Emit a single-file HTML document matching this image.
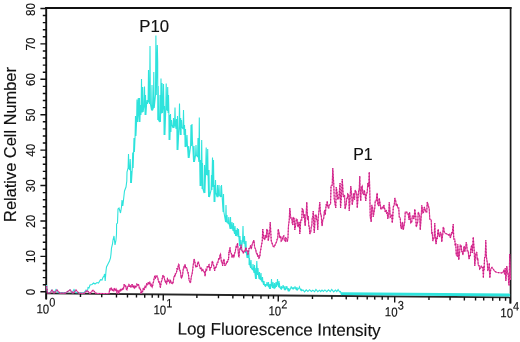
<!DOCTYPE html>
<html><head><meta charset="utf-8"><style>
html,body{margin:0;padding:0;background:#fff;}
svg{display:block;will-change:transform;}
text{font-family:"Liberation Sans", sans-serif;fill:#111;stroke:#111;stroke-width:0.15px;}
</style></head><body>
<svg width="520" height="342" viewBox="0 0 520 342">
<path d="M40.4 291.80H46.2 M42.8 284.72H46.2 M42.8 277.63H46.2 M42.8 270.55H46.2 M42.8 263.46H46.2 M40.4 256.38H46.2 M42.8 249.30H46.2 M42.8 242.21H46.2 M42.8 235.13H46.2 M42.8 228.04H46.2 M40.4 220.96H46.2 M42.8 213.88H46.2 M42.8 206.79H46.2 M42.8 199.71H46.2 M42.8 192.62H46.2 M40.4 185.54H46.2 M42.8 178.46H46.2 M42.8 171.37H46.2 M42.8 164.29H46.2 M42.8 157.20H46.2 M40.4 150.12H46.2 M42.8 143.04H46.2 M42.8 135.95H46.2 M42.8 128.87H46.2 M42.8 121.78H46.2 M40.4 114.70H46.2 M42.8 107.62H46.2 M42.8 100.53H46.2 M42.8 93.45H46.2 M42.8 86.36H46.2 M40.4 79.28H46.2 M42.8 72.20H46.2 M42.8 65.11H46.2 M42.8 58.03H46.2 M42.8 50.94H46.2 M40.4 43.86H46.2 M42.8 36.78H46.2 M42.8 29.69H46.2 M42.8 22.61H46.2 M42.8 15.52H46.2 M40.4 8.44H46.2" stroke="#111" stroke-width="1.4" fill="none"/>
<text transform="translate(35.0,292.00) rotate(-90) scale(0.92,1)" text-anchor="middle" font-size="12.7">0</text>
<text transform="translate(35.0,256.58) rotate(-90) scale(0.92,1)" text-anchor="middle" font-size="12.7">10</text>
<text transform="translate(35.0,221.16) rotate(-90) scale(0.92,1)" text-anchor="middle" font-size="12.7">20</text>
<text transform="translate(35.0,185.74) rotate(-90) scale(0.92,1)" text-anchor="middle" font-size="12.7">30</text>
<text transform="translate(35.0,150.32) rotate(-90) scale(0.92,1)" text-anchor="middle" font-size="12.7">40</text>
<text transform="translate(35.0,114.90) rotate(-90) scale(0.92,1)" text-anchor="middle" font-size="12.7">50</text>
<text transform="translate(35.0,79.48) rotate(-90) scale(0.92,1)" text-anchor="middle" font-size="12.7">60</text>
<text transform="translate(35.0,44.06) rotate(-90) scale(0.92,1)" text-anchor="middle" font-size="12.7">70</text>
<text transform="translate(35.0,9.44) rotate(-90) scale(0.92,1)" text-anchor="middle" font-size="12.7">80</text>
<text transform="translate(15.6,144.5) rotate(-90)" text-anchor="middle" font-size="16.4">Relative Cell Number</text>
<path d="M45.300000000000004 8.0H511.5" stroke="#111" stroke-width="2.1" fill="none"/>
<path d="M46.2 7.0V299.2" stroke="#111" stroke-width="1.9" fill="none"/>
<path d="M510.6 7.0V303.4" stroke="#1a1a1a" stroke-width="1.7" fill="none"/>
<g transform="rotate(0.4927 46.2 293.4)">
<path d="M46.2 293.4H510.6" stroke="#262626" stroke-width="1.9" fill="none"/>
<path d="M80.50 293.4V296.8 M101.75 293.4V296.8 M116.50 293.4V296.8 M127.50 293.4V296.8 M136.50 293.4V296.8 M144.75 293.4V296.8 M152.25 293.4V296.8 M158.50 293.4V296.8 M196.90 293.4V296.8 M218.50 293.4V296.8 M232.90 293.4V296.8 M243.75 293.4V296.8 M252.75 293.4V296.8 M261.00 293.4V296.8 M268.50 293.4V296.8 M273.50 293.4V296.8 M312.50 293.4V296.8 M331.90 293.4V296.8 M346.25 293.4V296.8 M357.50 293.4V296.8 M367.25 293.4V296.8 M374.75 293.4V296.8 M382.25 293.4V296.8 M388.10 293.4V296.8 M429.00 293.4V296.8 M450.10 293.4V296.8 M464.40 293.4V296.8 M475.60 293.4V296.8 M483.75 293.4V296.8 M492.75 293.4V296.8 M499.75 293.4V296.8 M505.60 293.4V296.8 M46.30 293.4V299.6 M163.30 293.4V299.6 M278.30 293.4V299.6 M394.75 293.4V299.6 M510.20 293.4V299.6" stroke="#111" stroke-width="1.4" fill="none"/>
<text transform="translate(36.60,313.45) scale(0.88,1)" font-size="13">10<tspan dy="-7.05" font-size="12.4">0</tspan></text>
<text transform="translate(153.60,313.45) scale(0.88,1)" font-size="13">10<tspan dy="-7.05" font-size="12.4">1</tspan></text>
<text transform="translate(268.60,313.45) scale(0.88,1)" font-size="13">10<tspan dy="-7.05" font-size="12.4">2</tspan></text>
<text transform="translate(385.05,313.45) scale(0.88,1)" font-size="13">10<tspan dy="-7.05" font-size="12.4">3</tspan></text>
<text transform="translate(500.50,313.45) scale(0.88,1)" font-size="13">10<tspan dy="-7.05" font-size="12.4">4</tspan></text>
<text transform="translate(177.8,333.25)" font-size="17">Log Fluorescence Intensity</text>
</g>
<polyline points="46.50,285.00 47.50,292.51 50.00,292.53 52.00,290.00 54.00,292.57 56.00,289.50 58.00,292.60 62.00,292.64 66.00,292.67 70.00,290.00 72.00,292.72 74.00,289.50 76.00,292.76 80.00,292.79 84.00,292.83 86.00,290.00 87.50,291.00 88.00,287.50 89.00,288.00 90.00,285.00 92.00,284.50 93.60,283.00 95.00,284.00 97.00,282.50 98.50,283.00 100.50,279.60 102.00,280.00 103.00,277.30 104.00,276.00 104.60,274.00 105.20,281.00 106.00,271.00 106.50,267.00 108.00,264.00 109.50,261.00 110.50,258.00 111.00,254.00 111.50,248.00 112.50,244.00 113.00,240.00 114.00,236.00 115.00,245.00 116.00,240.00 116.50,234.00 116.60,224.00 117.50,223.00 118.00,209.00 119.00,208.00 120.50,213.00 121.50,207.00 122.00,200.00 122.80,206.00 123.50,200.00 124.50,191.00 126.00,187.00 126.80,181.00 127.00,172.00 128.10,168.00 128.50,154.00 128.90,168.00 129.80,170.00 130.20,159.00 130.60,170.00 130.60,183.00 131.00,171.00 131.40,183.00 132.30,168.00 132.70,152.50 133.10,168.00 133.60,152.00 134.00,138.00 134.40,152.00 135.10,136.00 135.50,116.00 135.90,136.00 136.60,122.00 137.00,99.50 137.40,122.00 137.90,112.00 138.30,98.00 138.70,112.00 139.10,122.00 139.50,98.00 139.90,122.00 140.10,115.00 140.50,105.00 140.90,115.00 141.10,112.00 141.50,79.00 141.90,112.00 142.30,112.00 142.70,87.00 143.10,112.00 144.10,105.00 144.50,86.50 144.90,105.00 145.10,115.00 145.50,95.00 145.90,115.00 146.60,104.00 147.00,100.00 147.40,104.00 148.10,101.00 148.50,70.00 148.90,101.00 149.60,104.00 150.00,46.00 150.40,104.00 151.60,110.50 152.00,85.00 152.40,110.50 153.40,108.00 153.80,72.00 154.20,108.00 155.50,95.00 155.90,35.60 156.30,95.00 156.90,62.00 157.30,45.00 157.70,62.00 157.80,120.00 158.20,86.00 158.60,120.00 159.60,122.00 160.00,95.00 160.40,122.00 160.60,113.00 161.00,78.50 161.40,113.00 161.60,113.00 162.00,83.00 162.40,113.00 163.10,106.00 163.50,84.00 163.90,106.00 164.10,135.00 164.50,106.00 164.90,135.00 165.80,108.00 166.20,83.50 166.60,108.00 167.30,111.00 167.70,87.00 168.10,111.00 168.10,113.00 168.50,95.00 168.90,113.00 169.10,140.00 169.50,115.00 169.90,140.00 170.10,132.00 170.50,114.00 170.90,132.00 171.10,125.00 171.50,120.00 171.90,125.00 173.10,128.00 173.50,118.00 173.90,128.00 174.60,125.00 175.00,107.50 175.40,125.00 176.10,129.00 176.50,119.00 176.90,129.00 177.10,150.00 177.50,116.00 177.90,150.00 179.10,125.00 179.50,103.50 179.90,125.00 180.30,135.00 180.70,118.00 181.10,135.00 181.10,127.00 181.50,120.00 181.90,127.00 183.10,129.00 183.50,110.00 183.90,129.00 184.10,135.00 184.50,125.00 184.90,135.00 185.10,147.00 185.50,129.00 185.90,147.00 186.60,145.00 187.00,135.00 187.40,145.00 188.30,158.00 188.70,146.00 189.10,158.00 190.60,146.00 191.00,125.00 191.40,146.00 191.60,140.00 192.00,124.00 192.40,140.00 193.60,162.00 194.00,146.00 194.40,162.00 195.60,155.00 196.00,145.00 196.40,155.00 197.60,157.00 198.00,138.00 198.40,157.00 198.90,162.00 199.30,117.50 199.70,162.00 200.10,186.00 200.50,160.00 200.90,186.00 201.30,170.00 201.70,140.00 202.10,170.00 202.10,189.00 202.50,163.00 202.90,189.00 204.10,193.00 204.50,165.00 204.90,193.00 205.80,165.00 206.20,147.50 206.60,165.00 206.60,175.00 207.00,160.00 207.40,175.00 207.30,175.00 207.70,149.00 208.10,175.00 208.60,197.00 209.00,170.00 209.40,197.00 211.10,190.00 211.50,175.00 211.90,190.00 212.10,175.00 212.50,157.50 212.90,175.00 213.10,187.00 213.50,160.00 213.90,187.00 214.10,202.00 214.50,185.00 214.90,202.00 215.10,193.00 215.50,180.00 215.90,193.00 217.10,197.00 217.50,185.00 217.90,197.00 218.60,195.00 219.00,185.00 219.40,195.00 220.60,197.00 221.00,186.00 221.40,197.00 221.10,193.00 221.50,185.00 221.90,193.00 223.10,212.00 223.50,194.00 223.90,212.00 225.60,222.00 226.00,205.00 226.40,222.00 226.60,222.00 227.00,215.00 227.40,222.00 228.40,224.00 228.80,217.00 229.20,224.00 230.10,229.00 230.50,217.00 230.90,229.00 231.60,228.00 232.00,222.00 232.40,228.00 233.10,231.00 233.50,223.00 233.90,231.00 234.60,234.00 235.00,226.00 235.40,234.00 235.60,236.00 236.00,230.00 236.40,236.00 236.90,234.00 237.30,228.00 237.70,234.00 238.10,237.00 238.50,229.00 238.90,237.00 239.60,246.00 240.00,236.00 240.40,246.00 240.60,250.00 241.00,240.00 241.40,250.00 242.60,240.00 243.00,226.00 243.40,240.00 244.10,244.00 244.50,236.00 244.90,244.00 245.60,253.00 246.00,241.00 246.40,253.00 247.10,258.00 247.50,252.00 247.90,258.00 248.30,257.00 248.70,250.00 249.10,257.00 249.10,265.00 249.50,258.00 249.90,265.00 250.60,268.00 251.00,260.00 251.40,268.00 252.60,270.00 253.00,264.00 253.40,270.00 254.10,273.00 254.50,265.00 254.90,273.00 255.60,279.00 256.00,268.00 256.40,279.00 256.40,270.00 256.80,261.00 257.20,270.00 257.60,275.00 258.00,268.00 258.40,275.00 259.10,279.00 259.50,272.00 259.90,279.00 260.60,280.00 261.00,273.00 261.40,280.00 262.10,282.00 262.50,277.00 262.90,282.00 263.60,285.00 264.00,281.00 264.40,285.00 265.10,286.00 265.50,284.00 265.90,286.00 266.60,285.00 267.00,282.00 267.40,285.00 268.10,286.00 268.50,282.00 268.90,286.00 269.60,289.00 270.00,284.00 270.40,289.00 271.10,285.00 271.50,279.00 271.90,285.00 272.60,288.00 273.00,282.00 273.40,288.00 274.10,288.00 274.50,283.00 274.90,288.00 275.60,287.00 276.00,282.00 276.40,287.00 277.10,284.00 277.50,279.00 277.90,284.00 278.60,287.00 279.00,281.00 279.40,287.00 279.00,287.50 279.40,283.00 279.80,287.50 280.85,288.75 281.25,286.00 281.65,288.75 282.70,287.00 283.10,285.00 283.50,287.00 284.60,290.00 285.00,286.00 285.40,290.00 286.40,288.00 286.80,286.00 287.20,288.00 288.35,291.25 288.75,288.00 289.15,291.25 290.85,288.00 291.25,286.25 291.65,288.00 292.70,288.75 293.10,287.00 293.50,288.75 294.60,288.00 295.00,286.25 295.40,288.00 296.50,290.00 296.90,287.00 297.30,290.00 299.00,288.00 299.40,286.90 299.80,288.00 300.85,290.60 301.25,289.00 301.65,290.60 303.00,289.90 304.60,291.90 306.20,289.80 307.90,291.50 309.50,289.70 311.30,291.40 312.80,290.20 314.60,291.70 315.90,289.40 317.80,291.70 319.50,290.20 320.70,291.70 322.00,290.10 323.40,291.40 324.90,289.90 326.80,291.70 328.50,289.90 330.30,291.60 331.70,289.40 333.70,291.80 335.40,290.00 336.80,291.50 338.10,289.60 339.60,291.80 340.50,291.50 341.50,295.04" fill="none" stroke="#2ee3dc" stroke-width="1.1" stroke-linejoin="miter" stroke-miterlimit="3" stroke-linecap="butt" />
<polyline points="341.00,293.64 510.10,294.99" fill="none" stroke="#2ee3dc" stroke-width="2.8" stroke-linejoin="miter" stroke-miterlimit="3" stroke-linecap="butt" />
<polyline points="46.50,286.00 47.50,293.01 50.00,293.03 52.00,290.00 54.00,293.07 57.00,290.00 60.00,293.12 65.00,293.16 70.00,290.00 73.00,293.23 76.00,290.00 79.00,293.28 84.00,293.33 87.00,290.50 90.00,293.38 93.00,290.00 96.00,293.43 100.00,293.46 105.00,293.51 109.00,293.54 109.00,293.54 109.80,288.51 110.00,289.00 110.60,289.93 111.40,287.55 111.50,288.50 112.20,290.15 113.00,289.21 113.00,290.50 113.80,291.01 114.50,289.00 114.60,288.02 115.40,290.31 116.00,289.50 116.20,289.16 117.00,293.61 117.00,291.50 117.80,290.36 118.50,291.00 118.60,293.62 119.40,290.13 120.00,290.50 120.20,291.66 121.00,289.10 121.50,289.50 121.80,290.13 122.60,288.59 123.00,289.00 123.40,289.10 124.00,285.50 124.20,284.16 125.00,286.38 125.00,285.00 125.80,286.28 126.00,288.00 126.60,289.73 127.00,290.00 127.40,287.57 128.00,286.00 128.20,286.70 129.00,283.88 129.00,284.50 129.80,286.75 130.00,285.50 130.60,285.53 131.00,287.00 131.40,286.85 132.00,285.00 132.20,284.08 133.00,287.00 133.00,287.62 133.80,286.37 134.00,288.00 134.60,288.35 135.40,285.55 135.50,286.50 136.20,286.88 137.00,285.50 137.00,284.52 137.80,285.39 138.00,284.50 138.60,284.86 139.00,286.00 139.40,288.57 140.00,289.00 140.20,288.67 141.00,291.00 141.00,293.82 141.80,290.69 142.00,291.50 142.60,291.77 143.00,289.50 143.40,287.84 144.20,289.95 144.50,288.50 145.00,286.40 145.80,287.41 146.00,286.00 146.60,284.17 147.00,285.00 147.40,285.02 148.00,283.50 148.20,282.32 149.00,283.83 149.50,282.00 149.80,281.90 150.60,285.62 151.00,285.00 151.40,284.41 152.00,287.00 152.20,287.31 153.00,284.00 153.00,283.13 153.80,280.95 154.00,279.00 154.60,276.31 155.00,276.00 155.40,277.89 156.00,277.00 156.20,275.91 157.00,276.00 157.00,276.53 157.80,277.81 158.00,279.00 158.60,282.02 159.00,282.00 159.40,281.71 160.00,285.00 160.20,286.80 160.50,287.00 161.00,283.01 161.50,281.00 161.80,280.85 162.50,277.00 162.60,275.65 163.40,276.82 163.50,276.00 164.20,276.99 164.50,279.00 165.00,281.56 165.50,282.00 165.80,281.48 166.50,284.00 166.60,284.18 167.40,278.83 167.50,279.00 168.20,281.25 168.50,281.00 169.00,280.07 169.50,282.00 169.80,282.85 170.60,280.90 171.00,282.00 171.40,283.34 172.20,283.00 172.50,284.00 173.00,282.57 173.50,280.00 173.80,277.49 174.50,276.00 174.60,277.08 175.40,273.33 175.50,274.00 176.20,273.32 177.00,270.00 177.00,268.82 177.80,269.00 178.00,267.00 178.60,264.34 179.00,265.00 179.40,268.31 180.00,271.00 180.20,270.51 181.00,276.00 181.00,277.46 181.50,278.00 181.80,276.31 182.00,277.00 182.60,274.78 183.00,271.00 183.40,268.41 184.00,267.00 184.20,267.48 185.00,265.00 185.00,264.25 185.80,268.38 186.00,267.50 186.60,267.74 187.00,269.00 187.40,271.17 188.00,273.00 188.20,272.89 189.00,279.00 189.00,280.27 189.80,281.22 190.00,283.00 190.60,281.94 191.00,279.00 191.40,276.45 192.00,274.00 192.20,273.36 193.00,267.00 193.00,266.21 193.80,261.52 194.00,259.00 194.60,260.73 195.00,263.00 195.40,265.37 196.00,267.50 196.20,266.26 197.00,265.50 197.00,266.90 197.80,262.15 198.50,262.00 198.60,263.65 199.40,264.62 199.50,266.00 200.20,268.15 201.00,269.00 201.00,267.54 201.80,270.56 202.50,270.00 202.60,268.87 203.40,271.43 204.00,271.50 204.20,271.49 205.00,275.00 205.00,276.34 205.80,269.70 206.00,270.00 206.60,270.18 207.40,266.10 207.50,267.00 208.20,266.99 209.00,265.00 209.00,263.92 209.80,270.35 210.00,270.00 210.60,267.59 211.40,267.30 211.50,266.00 212.20,261.72 212.50,261.00 213.00,264.27 213.50,265.00 213.80,265.99 214.50,270.00 214.60,270.99 215.40,266.75 215.50,268.00 216.20,266.66 217.00,264.00 217.00,262.91 217.80,262.74 218.50,259.50 218.60,258.00 219.40,259.23 219.50,258.00 220.20,254.44 220.50,254.00 221.00,258.91 221.50,262.00 221.80,261.44 222.50,265.00 222.60,266.01 223.40,260.77 224.00,259.00 224.20,260.99 225.00,266.00 225.00,265.41 225.80,264.93 226.50,263.00 226.60,261.90 227.40,262.29 228.20,259.08 228.50,260.00 229.00,252.00 229.00,253.16 229.80,248.17 230.00,248.00 230.60,252.04 231.00,253.00 231.40,253.78 232.00,257.00 232.20,257.59 233.00,255.00 233.00,254.28 233.80,257.27 234.00,257.00 234.60,253.52 235.40,251.34 235.50,250.00 236.20,246.69 236.50,247.00 237.00,246.05 237.50,243.00 237.80,246.05 238.50,255.00 238.60,256.61 239.00,257.00 239.40,252.03 240.00,248.00 240.20,248.87 241.00,246.00 241.00,244.71 241.80,249.71 242.50,252.00 242.60,251.14 243.40,253.46 243.50,253.00 244.20,250.80 245.00,251.00 245.00,251.68 245.80,247.39 246.00,248.00 246.60,250.55 247.00,251.00 247.40,251.00 248.00,254.00 248.20,253.81 249.00,249.00 249.00,248.46 249.80,248.29 250.50,246.00 250.60,245.39 251.40,249.20 251.50,248.00 252.20,244.40 253.00,242.00 253.00,243.00 253.80,240.15 254.00,241.00 254.60,246.65 255.00,248.00 255.40,248.60 256.00,251.00 256.20,252.70 257.00,254.00 257.00,252.99 257.80,256.83 258.00,256.00 258.60,255.73 259.00,258.00 259.40,257.61 260.00,255.00 260.20,252.40 261.00,248.00 262.25,241.00 262.75,229.00 263.25,234.00 263.75,238.00 264.75,240.00 265.25,235.00 266.25,238.00 266.75,229.00 267.75,231.00 268.25,241.00 269.75,231.00 270.25,222.00 270.75,232.00 271.25,241.00 272.00,243.00 273.00,246.00 274.00,247.00 275.00,245.00 276.00,243.00 276.75,241.00 277.25,239.00 277.75,238.00 278.25,229.00 279.25,234.00 279.75,238.00 280.75,236.00 281.25,241.00 282.25,240.00 282.75,237.00 283.75,236.00 284.25,240.00 285.25,241.00 285.75,238.00 286.75,239.00 287.25,242.00 287.95,238.00 288.45,226.00 289.25,220.00 289.75,208.00 290.25,212.00 290.75,218.00 291.75,218.00 292.25,223.00 292.75,225.00 293.25,217.00 294.25,219.00 294.75,230.00 295.75,225.00 296.25,219.00 297.25,220.00 297.75,226.00 298.25,227.00 298.75,223.00 299.25,222.00 299.75,234.00 300.25,229.00 300.75,220.00 301.75,220.00 302.25,209.00 303.25,210.00 303.75,218.00 304.25,214.00 304.75,223.00 305.25,226.00 305.75,217.00 306.25,213.00 306.75,202.00 307.25,212.00 307.75,220.00 308.25,216.00 308.75,226.00 309.25,226.00 309.75,234.00 310.75,232.00 311.25,227.00 311.75,226.00 312.25,218.00 312.75,218.00 313.25,211.00 313.75,222.00 314.25,233.00 314.75,225.00 315.25,215.00 316.25,215.00 316.75,220.00 317.25,220.00 317.75,230.00 318.25,217.00 318.75,213.00 319.25,208.00 319.75,202.00 320.25,210.00 320.75,215.00 321.25,215.00 321.75,224.00 322.25,226.00 322.75,220.00 323.75,218.00 324.25,212.00 324.75,210.00 325.25,215.00 325.75,209.00 326.25,204.00 326.75,206.00 327.25,201.00 327.75,206.00 328.25,208.00 328.75,208.00 329.25,205.00 330.55,204.00 331.05,186.00 332.25,185.00 332.75,168.00 333.75,184.00 334.25,199.00 335.75,208.00 336.25,187.00 337.25,194.00 337.75,199.00 338.75,199.00 339.25,193.00 340.05,183.00 340.55,208.00 341.75,191.00 342.25,179.00 342.75,187.00 343.25,197.00 344.55,195.00 345.05,209.00 346.25,204.00 346.75,198.00 347.25,199.00 347.75,194.00 348.75,195.00 349.25,211.00 350.25,195.00 350.75,186.00 351.75,195.00 352.25,205.00 353.25,198.00 353.75,193.00 354.05,195.00 354.55,200.00 354.75,195.00 355.25,190.00 356.75,194.00 357.25,208.00 358.25,195.00 358.75,190.00 359.25,190.00 359.75,176.00 360.25,195.00 360.75,201.00 361.05,193.00 361.55,187.00 362.25,186.00 362.75,193.00 363.75,195.00 364.25,190.00 365.05,194.00 365.55,199.00 365.75,201.00 366.25,195.00 367.25,192.00 367.75,183.00 368.75,187.00 369.25,172.00 369.75,190.00 370.25,217.00 371.25,222.00 371.75,205.00 372.75,208.00 373.25,217.00 374.75,208.00 375.25,201.00 376.25,201.00 376.75,195.00 377.25,193.00 377.75,204.00 378.75,206.00 379.25,198.00 380.25,205.00 380.75,209.00 381.75,209.00 382.25,207.00 383.25,208.00 383.75,205.00 384.75,209.00 385.25,212.00 386.25,210.00 386.75,214.00 387.25,212.00 387.75,219.00 388.75,214.00 389.25,202.00 389.75,208.00 390.25,217.00 391.75,215.00 392.25,223.00 392.75,218.00 393.25,207.00 394.25,205.00 394.75,198.00 395.75,201.00 396.25,206.00 397.25,204.00 397.75,208.00 398.75,208.00 399.25,217.00 400.25,218.00 400.75,227.00 401.75,229.00 402.25,222.00 402.75,223.00 403.25,230.00 404.75,222.00 405.25,212.00 406.75,212.00 407.25,214.00 408.25,214.00 408.75,218.00 409.05,220.00 409.55,212.00 410.25,218.00 410.75,223.00 411.75,222.00 412.25,216.00 413.25,216.00 413.75,219.00 414.25,217.00 414.75,209.00 415.75,216.00 416.25,227.00 417.75,222.00 418.25,212.00 419.75,216.00 420.25,230.00 421.25,216.00 421.75,205.00 422.25,208.00 422.75,213.00 423.75,212.00 424.25,207.00 425.25,210.00 425.75,212.00 426.75,212.00 427.25,202.00 429.25,209.00 429.75,219.00 431.25,220.00 431.75,234.00 432.25,232.00 432.75,241.00 434.25,237.00 434.75,223.00 435.25,236.00 435.75,243.00 436.25,244.00 436.75,237.00 437.25,239.00 437.75,232.00 438.25,229.00 438.75,235.00 439.75,237.00 440.25,232.00 441.25,234.00 441.75,242.00 442.75,234.00 443.25,227.00 443.75,228.00 444.25,232.00 445.50,233.50 447.00,234.00 448.50,235.00 449.75,234.00 450.25,238.00 451.25,235.00 451.75,232.00 452.25,234.00 452.75,228.00 453.25,224.00 453.75,239.00 454.75,239.00 455.25,246.00 455.75,243.00 456.25,255.00 457.25,256.00 457.75,244.00 458.25,252.00 458.75,260.00 459.75,251.00 460.25,245.00 461.25,246.00 461.75,252.00 462.25,251.00 462.75,255.00 463.25,253.00 463.75,248.00 464.25,246.00 464.75,252.00 465.75,247.00 466.25,242.00 466.75,245.00 467.25,251.00 468.25,251.00 468.75,258.00 469.25,259.00 469.75,255.00 470.25,256.00 470.75,249.00 471.75,245.00 472.25,253.00 472.75,246.00 473.25,237.00 474.25,251.00 474.75,266.00 475.25,260.00 475.75,254.00 476.75,252.00 477.25,260.00 477.75,258.00 478.25,265.00 479.25,266.00 479.75,269.00 480.75,268.00 481.25,266.00 482.75,268.00 483.25,274.00 483.35,278.00 483.85,266.00 484.05,270.00 484.55,258.00 485.25,257.00 485.75,240.00 486.25,254.00 486.75,260.00 487.25,262.00 487.75,270.00 488.75,269.00 489.25,263.00 489.35,270.00 489.85,278.00 490.25,274.00 490.75,269.00 492.00,267.50 493.50,269.50 495.00,271.50 497.00,272.50 500.00,272.80 502.00,273.00 503.25,272.00 503.75,270.00 503.95,270.00 504.45,274.00 504.75,274.00 505.25,268.00 505.35,272.00 505.85,281.00 506.25,276.00 506.75,266.00 507.25,270.00 507.75,274.00 508.25,274.00 508.75,285.00 509.15,285.00 509.65,254.00 509.95,262.00 510.45,280.00" fill="none" stroke="#e2469f" stroke-width="1.15" stroke-linejoin="miter" stroke-miterlimit="3" stroke-linecap="butt" />
<polyline points="46.50,286.00 47.50,293.01 50.00,293.03 52.00,290.00 54.00,293.07 57.00,290.00 60.00,293.12 65.00,293.16 70.00,290.00 73.00,293.23 76.00,290.00 79.00,293.28 84.00,293.33 87.00,290.50 90.00,293.38 93.00,290.00 96.00,293.43 100.00,293.46 105.00,293.51 109.00,293.54 109.00,293.54 109.80,288.51 110.00,289.00 110.60,289.93 111.40,287.55 111.50,288.50 112.20,290.15 113.00,289.21 113.00,290.50 113.80,291.01 114.50,289.00 114.60,288.02 115.40,290.31 116.00,289.50 116.20,289.16 117.00,293.61 117.00,291.50 117.80,290.36 118.50,291.00 118.60,293.62 119.40,290.13 120.00,290.50 120.20,291.66 121.00,289.10 121.50,289.50 121.80,290.13 122.60,288.59 123.00,289.00 123.40,289.10 124.00,285.50 124.20,284.16 125.00,286.38 125.00,285.00 125.80,286.28 126.00,288.00 126.60,289.73 127.00,290.00 127.40,287.57 128.00,286.00 128.20,286.70 129.00,283.88 129.00,284.50 129.80,286.75 130.00,285.50 130.60,285.53 131.00,287.00 131.40,286.85 132.00,285.00 132.20,284.08 133.00,287.00 133.00,287.62 133.80,286.37 134.00,288.00 134.60,288.35 135.40,285.55 135.50,286.50 136.20,286.88 137.00,285.50 137.00,284.52 137.80,285.39 138.00,284.50 138.60,284.86 139.00,286.00 139.40,288.57 140.00,289.00 140.20,288.67 141.00,291.00 141.00,293.82 141.80,290.69 142.00,291.50 142.60,291.77 143.00,289.50 143.40,287.84 144.20,289.95 144.50,288.50 145.00,286.40 145.80,287.41 146.00,286.00 146.60,284.17 147.00,285.00 147.40,285.02 148.00,283.50 148.20,282.32 149.00,283.83 149.50,282.00 149.80,281.90 150.60,285.62 151.00,285.00 151.40,284.41 152.00,287.00 152.20,287.31 153.00,284.00 153.00,283.13 153.80,280.95 154.00,279.00 154.60,276.31 155.00,276.00 155.40,277.89 156.00,277.00 156.20,275.91 157.00,276.00 157.00,276.53 157.80,277.81 158.00,279.00 158.60,282.02 159.00,282.00 159.40,281.71 160.00,285.00 160.20,286.80 160.50,287.00 161.00,283.01 161.50,281.00 161.80,280.85 162.50,277.00 162.60,275.65 163.40,276.82 163.50,276.00 164.20,276.99 164.50,279.00 165.00,281.56 165.50,282.00 165.80,281.48 166.50,284.00 166.60,284.18 167.40,278.83 167.50,279.00 168.20,281.25 168.50,281.00 169.00,280.07 169.50,282.00 169.80,282.85 170.60,280.90 171.00,282.00 171.40,283.34 172.20,283.00 172.50,284.00 173.00,282.57 173.50,280.00 173.80,277.49 174.50,276.00 174.60,277.08 175.40,273.33 175.50,274.00 176.20,273.32 177.00,270.00 177.00,268.82 177.80,269.00 178.00,267.00 178.60,264.34 179.00,265.00 179.40,268.31 180.00,271.00 180.20,270.51 181.00,276.00 181.00,277.46 181.50,278.00 181.80,276.31 182.00,277.00 182.60,274.78 183.00,271.00 183.40,268.41 184.00,267.00 184.20,267.48 185.00,265.00 185.00,264.25 185.80,268.38 186.00,267.50 186.60,267.74 187.00,269.00 187.40,271.17 188.00,273.00 188.20,272.89 189.00,279.00 189.00,280.27 189.80,281.22 190.00,283.00 190.60,281.94 191.00,279.00 191.40,276.45 192.00,274.00 192.20,273.36 193.00,267.00 193.00,266.21 193.80,261.52 194.00,259.00 194.60,260.73 195.00,263.00 195.40,265.37 196.00,267.50 196.20,266.26 197.00,265.50 197.00,266.90 197.80,262.15 198.50,262.00 198.60,263.65 199.40,264.62 199.50,266.00 200.20,268.15 201.00,269.00 201.00,267.54 201.80,270.56 202.50,270.00 202.60,268.87 203.40,271.43 204.00,271.50 204.20,271.49 205.00,275.00 205.00,276.34 205.80,269.70 206.00,270.00 206.60,270.18 207.40,266.10 207.50,267.00 208.20,266.99 209.00,265.00 209.00,263.92 209.80,270.35 210.00,270.00 210.60,267.59 211.40,267.30 211.50,266.00 212.20,261.72 212.50,261.00 213.00,264.27 213.50,265.00 213.80,265.99 214.50,270.00 214.60,270.99 215.40,266.75 215.50,268.00 216.20,266.66 217.00,264.00 217.00,262.91 217.80,262.74 218.50,259.50 218.60,258.00 219.40,259.23 219.50,258.00 220.20,254.44 220.50,254.00 221.00,258.91 221.50,262.00 221.80,261.44 222.50,265.00 222.60,266.01 223.40,260.77 224.00,259.00 224.20,260.99 225.00,266.00 225.00,265.41 225.80,264.93 226.50,263.00 226.60,261.90 227.40,262.29 228.20,259.08 228.50,260.00 229.00,252.00 229.00,253.16 229.80,248.17 230.00,248.00 230.60,252.04 231.00,253.00 231.40,253.78 232.00,257.00 232.20,257.59 233.00,255.00 233.00,254.28 233.80,257.27 234.00,257.00 234.60,253.52 235.40,251.34 235.50,250.00 236.20,246.69 236.50,247.00 237.00,246.05 237.50,243.00 237.80,246.05 238.50,255.00 238.60,256.61 239.00,257.00 239.40,252.03 240.00,248.00 240.20,248.87 241.00,246.00 241.00,244.71 241.80,249.71 242.50,252.00 242.60,251.14 243.40,253.46 243.50,253.00 244.20,250.80 245.00,251.00 245.00,251.68 245.80,247.39 246.00,248.00 246.60,250.55 247.00,251.00 247.40,251.00 248.00,254.00 248.20,253.81 249.00,249.00 249.00,248.46 249.80,248.29 250.50,246.00 250.60,245.39 251.40,249.20 251.50,248.00 252.20,244.40 253.00,242.00 253.00,243.00 253.80,240.15 254.00,241.00 254.60,246.65 255.00,248.00 255.40,248.60 256.00,251.00 256.20,252.70 257.00,254.00 257.00,252.99 257.80,256.83 258.00,256.00 258.60,255.73 259.00,258.00 259.40,257.61 260.00,255.00 260.20,252.40 261.00,248.00 262.25,241.00 262.75,229.00 263.25,234.00 263.75,238.00 264.75,240.00 265.25,235.00 266.25,238.00 266.75,229.00 267.75,231.00 268.25,241.00 269.75,231.00 270.25,222.00 270.75,232.00 271.25,241.00 272.00,243.00 273.00,246.00 274.00,247.00 275.00,245.00 276.00,243.00 276.75,241.00 277.25,239.00 277.75,238.00 278.25,229.00 279.25,234.00 279.75,238.00 280.75,236.00 281.25,241.00 282.25,240.00 282.75,237.00 283.75,236.00 284.25,240.00 285.25,241.00 285.75,238.00 286.75,239.00 287.25,242.00 287.95,238.00 288.45,226.00 289.25,220.00 289.75,208.00 290.25,212.00 290.75,218.00 291.75,218.00 292.25,223.00 292.75,225.00 293.25,217.00 294.25,219.00 294.75,230.00 295.75,225.00 296.25,219.00 297.25,220.00 297.75,226.00 298.25,227.00 298.75,223.00 299.25,222.00 299.75,234.00 300.25,229.00 300.75,220.00 301.75,220.00 302.25,209.00 303.25,210.00 303.75,218.00 304.25,214.00 304.75,223.00 305.25,226.00 305.75,217.00 306.25,213.00 306.75,202.00 307.25,212.00 307.75,220.00 308.25,216.00 308.75,226.00 309.25,226.00 309.75,234.00 310.75,232.00 311.25,227.00 311.75,226.00 312.25,218.00 312.75,218.00 313.25,211.00 313.75,222.00 314.25,233.00 314.75,225.00 315.25,215.00 316.25,215.00 316.75,220.00 317.25,220.00 317.75,230.00 318.25,217.00 318.75,213.00 319.25,208.00 319.75,202.00 320.25,210.00 320.75,215.00 321.25,215.00 321.75,224.00 322.25,226.00 322.75,220.00 323.75,218.00 324.25,212.00 324.75,210.00 325.25,215.00 325.75,209.00 326.25,204.00 326.75,206.00 327.25,201.00 327.75,206.00 328.25,208.00 328.75,208.00 329.25,205.00 330.55,204.00 331.05,186.00 332.25,185.00 332.75,168.00 333.75,184.00 334.25,199.00 335.75,208.00 336.25,187.00 337.25,194.00 337.75,199.00 338.75,199.00 339.25,193.00 340.05,183.00 340.55,208.00 341.75,191.00 342.25,179.00 342.75,187.00 343.25,197.00 344.55,195.00 345.05,209.00 346.25,204.00 346.75,198.00 347.25,199.00 347.75,194.00 348.75,195.00 349.25,211.00 350.25,195.00 350.75,186.00 351.75,195.00 352.25,205.00 353.25,198.00 353.75,193.00 354.05,195.00 354.55,200.00 354.75,195.00 355.25,190.00 356.75,194.00 357.25,208.00 358.25,195.00 358.75,190.00 359.25,190.00 359.75,176.00 360.25,195.00 360.75,201.00 361.05,193.00 361.55,187.00 362.25,186.00 362.75,193.00 363.75,195.00 364.25,190.00 365.05,194.00 365.55,199.00 365.75,201.00 366.25,195.00 367.25,192.00 367.75,183.00 368.75,187.00 369.25,172.00 369.75,190.00 370.25,217.00 371.25,222.00 371.75,205.00 372.75,208.00 373.25,217.00 374.75,208.00 375.25,201.00 376.25,201.00 376.75,195.00 377.25,193.00 377.75,204.00 378.75,206.00 379.25,198.00 380.25,205.00 380.75,209.00 381.75,209.00 382.25,207.00 383.25,208.00 383.75,205.00 384.75,209.00 385.25,212.00 386.25,210.00 386.75,214.00 387.25,212.00 387.75,219.00 388.75,214.00 389.25,202.00 389.75,208.00 390.25,217.00 391.75,215.00 392.25,223.00 392.75,218.00 393.25,207.00 394.25,205.00 394.75,198.00 395.75,201.00 396.25,206.00 397.25,204.00 397.75,208.00 398.75,208.00 399.25,217.00 400.25,218.00 400.75,227.00 401.75,229.00 402.25,222.00 402.75,223.00 403.25,230.00 404.75,222.00 405.25,212.00 406.75,212.00 407.25,214.00 408.25,214.00 408.75,218.00 409.05,220.00 409.55,212.00 410.25,218.00 410.75,223.00 411.75,222.00 412.25,216.00 413.25,216.00 413.75,219.00 414.25,217.00 414.75,209.00 415.75,216.00 416.25,227.00 417.75,222.00 418.25,212.00 419.75,216.00 420.25,230.00 421.25,216.00 421.75,205.00 422.25,208.00 422.75,213.00 423.75,212.00 424.25,207.00 425.25,210.00 425.75,212.00 426.75,212.00 427.25,202.00 429.25,209.00 429.75,219.00 431.25,220.00 431.75,234.00 432.25,232.00 432.75,241.00 434.25,237.00 434.75,223.00 435.25,236.00 435.75,243.00 436.25,244.00 436.75,237.00 437.25,239.00 437.75,232.00 438.25,229.00 438.75,235.00 439.75,237.00 440.25,232.00 441.25,234.00 441.75,242.00 442.75,234.00 443.25,227.00 443.75,228.00 444.25,232.00 445.50,233.50 447.00,234.00 448.50,235.00 449.75,234.00 450.25,238.00 451.25,235.00 451.75,232.00 452.25,234.00 452.75,228.00 453.25,224.00 453.75,239.00 454.75,239.00 455.25,246.00 455.75,243.00 456.25,255.00 457.25,256.00 457.75,244.00 458.25,252.00 458.75,260.00 459.75,251.00 460.25,245.00 461.25,246.00 461.75,252.00 462.25,251.00 462.75,255.00 463.25,253.00 463.75,248.00 464.25,246.00 464.75,252.00 465.75,247.00 466.25,242.00 466.75,245.00 467.25,251.00 468.25,251.00 468.75,258.00 469.25,259.00 469.75,255.00 470.25,256.00 470.75,249.00 471.75,245.00 472.25,253.00 472.75,246.00 473.25,237.00 474.25,251.00 474.75,266.00 475.25,260.00 475.75,254.00 476.75,252.00 477.25,260.00 477.75,258.00 478.25,265.00 479.25,266.00 479.75,269.00 480.75,268.00 481.25,266.00 482.75,268.00 483.25,274.00 483.35,278.00 483.85,266.00 484.05,270.00 484.55,258.00 485.25,257.00 485.75,240.00 486.25,254.00 486.75,260.00 487.25,262.00 487.75,270.00 488.75,269.00 489.25,263.00 489.35,270.00 489.85,278.00 490.25,274.00 490.75,269.00 492.00,267.50 493.50,269.50 495.00,271.50 497.00,272.50 500.00,272.80 502.00,273.00 503.25,272.00 503.75,270.00 503.95,270.00 504.45,274.00 504.75,274.00 505.25,268.00 505.35,272.00 505.85,281.00 506.25,276.00 506.75,266.00 507.25,270.00 507.75,274.00 508.25,274.00 508.75,285.00 509.15,285.00 509.65,254.00 509.95,262.00 510.45,280.00" fill="none" stroke="#c41c84" stroke-width="1.15" stroke-linejoin="miter" stroke-miterlimit="3" stroke-linecap="butt" stroke-dasharray="1.0 2.0"/>
<text transform="translate(139.3,32.0)" font-size="16.8">P10</text>
<text transform="translate(353.2,159.6) scale(0.95,1)" font-size="16.8">P1</text>
</svg></body></html>
